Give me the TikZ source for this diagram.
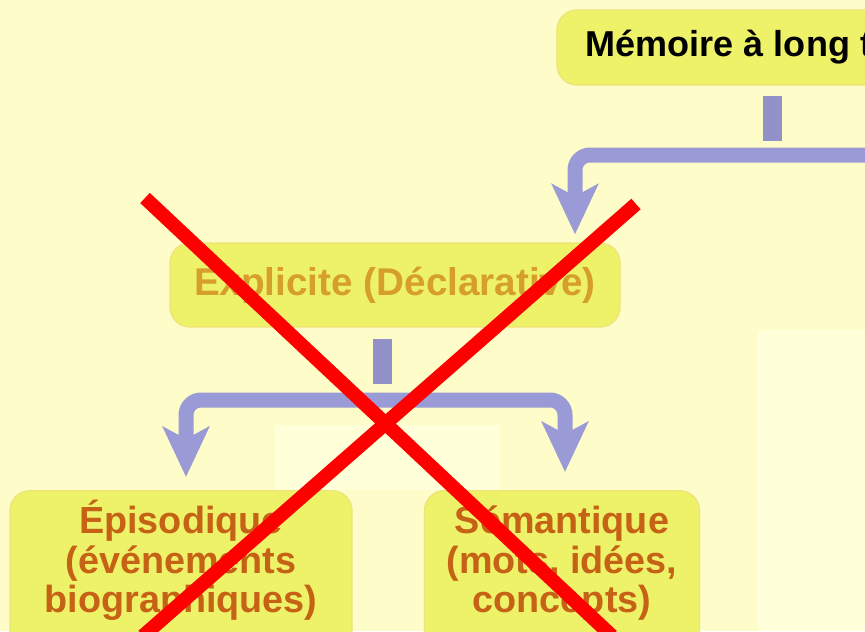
\documentclass[tikz,border=0pt]{standalone}
\usepackage{fontspec}
\setmainfont{Liberation Sans}
\usetikzlibrary{arrows.meta, positioning, calc}
\definecolor{pagecream}{RGB}{254,252,200}
\definecolor{pagepale}{RGB}{255,255,217}
\definecolor{boxyellow}{RGB}{238,242,104}
\definecolor{boxedge}{RGB}{238,228,122}
\definecolor{flowblue}{RGB}{154,154,214}
\definecolor{stemblue}{RGB}{146,146,200}
\definecolor{textorange}{RGB}{198,98,22}
\definecolor{textmustard}{RGB}{214,158,42}
\definecolor{crossred}{RGB}{255,0,0}

\begin{document}
\begin{tikzpicture}[
  x=0.2mm, y=-0.2mm,
  box/.style={
    rectangle, rounded corners=4mm, fill=boxyellow,
    draw=boxedge, line width=0.8pt, align=center
  },
  topbox/.style={box, font=\fontsize{20.5pt}{22pt}\selectfont\bfseries, text=black},
  midbox/.style={box, font=\fontsize{22pt}{23pt}\selectfont\bfseries, text=textmustard},
  subbox/.style={box, anchor=north, inner ysep=0pt,
    font=\fontsize{21.5pt}{22.4pt}\selectfont\bfseries, text=textorange},
  stem/.style={stemblue, line width=3.8mm},
  flow/.style={flowblue, line width=3mm, rounded corners=3mm,
    -{Stealth[length=10mm, width=9.2mm, inset=2.4mm]}},
  cross/.style={crossred, line width=2.8mm}
]

% Page
\useasboundingbox (0,0) rectangle (865,631);
\clip (0,0) rectangle (865,631);
\fill[pagecream] (0,0) rectangle (865,631);
\fill[pagepale] (757,330) rectangle (865,631);
\fill[pagepale] (275,425) rectangle (500,490);

% Boxes
\node[topbox, minimum width=86mm, minimum height=15mm] (mem) at (772,47.5) {Mémoire à long terme};
\node[midbox, minimum width=90mm, minimum height=16.8mm] (expl) at (395,285) {Explicite (Déclarative)};
\node[subbox, minimum width=68.4mm] (epi) at (181,490)
  {\rule{0pt}{8.6mm}Épisodique\\(événements\\biographiques)\rule[-8mm]{0pt}{8mm}};
\node[subbox, minimum width=55mm] (sem) at (562,490)
  {\rule{0pt}{8.6mm}Sémantique\\(mots, idées,\\concepts)\rule[-8mm]{0pt}{8mm}};

% Stems
\draw[stem] ([yshift=-2mm]mem.south) -- ++(0,45);
\draw[stem] ([xshift=-2.6mm, yshift=-2.2mm]expl.south) -- ++(0,45);

% Arrows
\coordinate (memright) at (900,155);
\coordinate (split) at (382,400);
\draw[flow] (memright) -| ([xshift=36mm, yshift=1.6mm]expl.north);
\draw[flow] (split) -| ([xshift=1mm, yshift=2.6mm]epi.north);
\draw[flow] (split) -| ([xshift=0.6mm, yshift=3.6mm]sem.north);

% Cross
\draw[cross] (145,198) -- (612,636);
\draw[cross] (636,204) -- (143,636);

\end{tikzpicture}
\end{document}
